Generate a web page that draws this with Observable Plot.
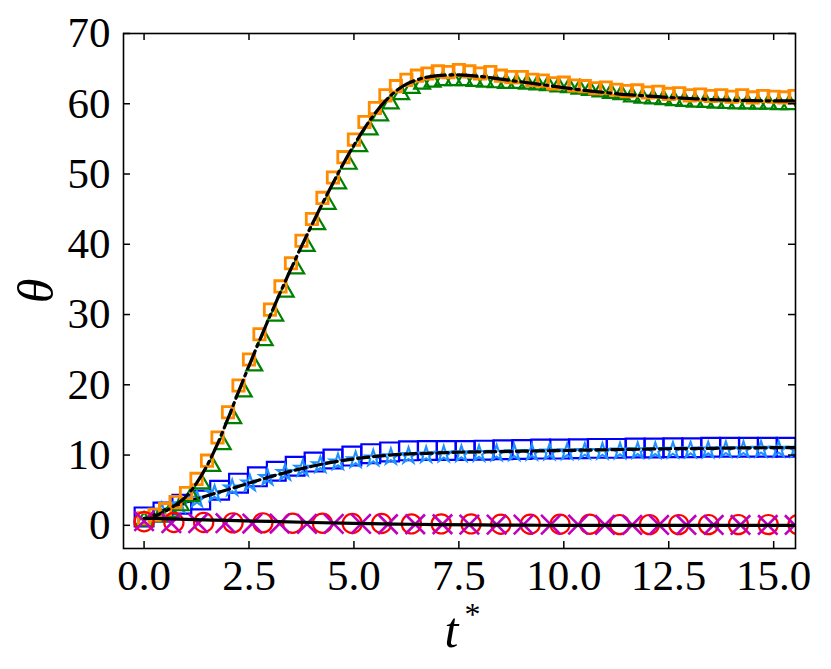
<!DOCTYPE html>
<html>
<head>
<meta charset="utf-8">
<script src="https://cdn.jsdelivr.net/npm/d3@7"></script>
<script src="https://cdn.jsdelivr.net/npm/@observablehq/plot@0.6"></script>
<style>
  body { margin: 0; background: #ffffff; }
  #chart svg { display: block; }
</style>
</head>
<body>
<div id="chart"></div>
<script>
// ---------- tick labels ----------
const xTicks = [0, 2.5, 5, 7.5, 10, 12.5, 15];
const yTicks = [0, 10, 20, 30, 40, 50, 60, 70];

// ---------- upper group (θ ≈ 60) ----------
const dashDotT = [0,0.25,0.5,0.75,1,1.25,1.5,1.75,2,2.25,2.5,2.75,3,3.25,3.5,3.75,4,4.25,4.5,4.75,5,5.25,5.5,5.75,6,6.25,6.5,6.75,7,7.25,7.5,8,8.5,9,9.5,10,10.5,11,11.5,12,12.5,13,13.5,14,14.5,15,15.5];
const dashDotTheta = [0.9,1.3,2.0,2.9,4.1,6.0,8.5,11.6,15.2,19.0,22.7,26.3,29.8,33.2,36.5,39.7,42.8,45.8,48.7,51.5,54.1,56.5,58.6,60.4,61.8,62.8,63.4,63.8,64.0,64.1,64.1,63.9,63.5,63.1,62.7,62.3,61.9,61.6,61.3,61.1,60.9,60.75,60.6,60.5,60.45,60.4,60.4];

const orangeT = [0,0.25,0.5,0.75,1,1.25,1.5,1.75,2,2.25,2.5,2.75,3,3.25,3.5,3.75,4,4.25,4.5,4.75,5,5.25,5.5,5.75,6,6.25,6.5,6.75,7,7.25,7.5,7.75,8,8.25,8.5,8.75,9,9.25,9.5,9.75,10,10.25,10.5,10.75,11,11.25,11.5,11.75,12,12.25,12.5,12.75,13,13.25,13.5,13.75,14,14.25,14.5,14.75,15,15.25,15.5];
const orangeTheta = [1.0,1.5,2.3,3.3,4.6,6.6,9.2,12.5,16.1,19.9,23.6,27.2,30.7,34.0,37.3,40.5,43.6,46.6,49.5,52.4,54.9,57.4,59.4,61.2,62.5,63.4,64.0,64.3,64.6,64.5,64.8,64.6,64.3,64.5,64.0,63.8,63.8,63.4,63.3,62.9,63.0,62.6,62.5,62.2,62.3,62.0,61.8,61.9,61.6,61.7,61.4,61.5,61.2,61.3,61.1,61.2,61.0,61.2,60.9,61.1,61.0,60.9,61.1];

const greenT = [0,0.375,0.625,0.875,1.125,1.375,1.625,1.875,2.125,2.375,2.625,2.875,3.125,3.375,3.625,3.875,4.125,4.375,4.625,4.875,5.125,5.375,5.625,5.875,6.125,6.375,6.625,6.875,7.125,7.375,7.625,7.875,8.125,8.375,8.625,8.875,9.125,9.375,9.625,9.875,10.125,10.375,10.625,10.875,11.125,11.375,11.625,11.875,12.125,12.375,12.625,12.875,13.125,13.375,13.625,13.875,14.125,14.375,14.625,14.875,15.125,15.375];
const greenTheta = [0.6,1.2,1.9,2.8,4.1,5.9,8.4,11.5,15.2,19.0,22.7,26.3,29.8,33.2,36.5,39.7,42.8,45.7,48.6,51.4,53.9,56.3,58.3,60.0,61.3,62.2,62.8,63.1,63.3,63.3,63.3,63.2,63.1,63.0,62.9,62.9,62.8,62.7,62.6,62.4,62.3,62.1,61.9,61.7,61.5,61.3,61.0,60.8,60.7,60.6,60.45,60.35,60.25,60.2,60.1,60.05,60.0,60.0,59.95,59.95,59.9,59.9];

// ---------- middle group (θ ≈ 11) ----------
const dashedT = [0,0.5,1,1.5,2,2.5,3,3.5,4,4.5,5,5.5,6,6.5,7,7.5,8,8.5,9,9.5,10,10.5,11,11.5,12,12.5,13,13.5,14,14.5,15,15.5];
const dashedTheta = [0.9,2.2,3.3,4.2,5.1,6.0,6.9,7.7,8.4,9.0,9.45,9.8,10.05,10.2,10.3,10.4,10.45,10.5,10.55,10.6,10.65,10.7,10.75,10.8,10.85,10.9,10.92,10.95,11.0,11.02,11.05,11.05];

const blueSqT = [0,0.45,0.9,1.35,1.8,2.25,2.7,3.15,3.6,4.05,4.5,4.95,5.4,5.85,6.3,6.75,7.2,7.65,8.1,8.55,9.0,9.45,9.9,10.35,10.8,11.25,11.7,12.15,12.6,13.05,13.5,13.95,14.4,14.85,15.3];
const blueSqTheta = [1.2,1.9,3.0,3.6,5.0,6.0,6.9,7.7,8.4,9.0,9.45,9.85,10.2,10.45,10.6,10.65,10.65,10.65,10.7,10.75,10.8,10.85,10.85,10.9,10.95,10.95,11.0,11.0,11.05,11.05,11.1,11.1,11.1,11.1,11.1];

const starT = [0.42,0.84,1.26,1.68,2.1,2.52,2.94,3.36,3.78,4.2,4.62,5.04,5.46,5.88,6.3,6.72,7.14,7.56,7.98,8.4,8.82,9.24,9.66,10.08,10.5,10.92,11.34,11.76,12.18,12.6,13.02,13.44,13.86,14.28,14.7,15.12,15.54];
const starTheta = [2.0,2.9,3.7,4.5,5.3,6.0,6.8,7.5,8.1,8.6,9.0,9.3,9.55,9.75,9.9,10.0,10.1,10.15,10.2,10.25,10.3,10.35,10.4,10.45,10.5,10.5,10.55,10.6,10.6,10.65,10.7,10.7,10.75,10.75,10.8,10.8,10.8];

// ---------- lower group (θ ≈ 0) ----------
const solidT = [0,0.5,1,2,3,4,5,6,7,8,9,10,11,12,13,14,15,15.5];
const solidTheta = [1.0,0.95,0.85,0.7,0.55,0.4,0.28,0.18,0.1,0.05,0.02,0,0,0,0,0,0,0];

const circleT = [0,0.71,1.42,2.12,2.83,3.54,4.25,4.96,5.66,6.37,7.08,7.79,8.5,9.2,9.91,10.62,11.33,12.04,12.74,13.45,14.16,14.87,15.58];
const circleTheta = [0.5,0.4,0.4,0.35,0.35,0.3,0.3,0.25,0.25,0.2,0.2,0.2,0.15,0.15,0.15,0.15,0.1,0.1,0.1,0.1,0.1,0.1,0.1];

const crossT = [0,0.65,1.29,1.94,2.58,3.23,3.88,4.52,5.17,5.81,6.46,7.11,7.75,8.4,9.04,9.69,10.34,10.98,11.63,12.27,12.92,13.57,14.21,14.86,15.5];
const crossTheta = [0.6,0.3,0.3,0.3,0.25,0.25,0.2,0.2,0.2,0.15,0.15,0.15,0.1,0.1,0.1,0.1,0.1,0.05,0.05,0.05,0.05,0.05,0.05,0.05,0.05];

// ---------- build tables ----------
const rows = (ts, vs) => ts.map((t, i) => ({ t, v: vs[i] }));

const W = 831, H = 669;
const mL = 123, mR = 36, mT = 33, mB = 121;
const innerW = W - mL - mR;
const innerH = H - mT - mB;
const tickLen = 7;
const FONT = "'Liberation Serif', 'DejaVu Serif', serif";

const lineOpts = { x: "t", y: "v", stroke: "black", strokeWidth: 3.2, curve: "catmull-rom", clip: true };
const dotOpts = { x: "t", y: "v", fill: "none", clip: true };

const chart = Plot.plot({
  width: W,
  height: H,
  marginLeft: mL,
  marginRight: mR,
  marginTop: mT,
  marginBottom: mB,
  style: { fontFamily: FONT, background: "white", color: "black", overflow: "visible" },
  x: { domain: [-0.49, 15.52] },
  y: { domain: [-3.3, 70] },
  marks: [
    // middle group
    Plot.dot(rows(blueSqT, blueSqTheta), { ...dotOpts, symbol: "square", r: 10.6, stroke: "#0000ff", strokeWidth: 2.2 }),
    Plot.dot(rows(starT, starTheta), { ...dotOpts, symbol: "star", r: 5.0, stroke: "#1e90ff", strokeWidth: 2.1 }),
    Plot.line(rows(dashedT, dashedTheta), { ...lineOpts, strokeDasharray: "11.1,4.8" }),
    // upper group
    Plot.dot(rows(greenT, greenTheta), { ...dotOpts, symbol: "triangle", r: 5.9, stroke: "#008000", strokeWidth: 2.2 }),
    Plot.dot(rows(orangeT, orangeTheta), { ...dotOpts, symbol: "square", r: 6.4, stroke: "#ff8c00", strokeWidth: 2.8 }),
    Plot.line(rows(dashDotT, dashDotTheta), { ...lineOpts, strokeDasharray: "19.2,4.8,3,4.8" }),
    // lower group
    Plot.dot(rows(circleT, circleTheta), { ...dotOpts, symbol: "circle", r: 9.6, stroke: "#ff0000", strokeWidth: 2.2 }),
    Plot.dot(rows(crossT, crossTheta), { ...dotOpts, symbol: "times", r: 8.9, stroke: "#bf00bf", strokeWidth: 2.6 }),
    Plot.line(rows(solidT, solidTheta), { ...lineOpts }),
    // inward ticks on all four sides
    Plot.ruleX(xTicks, { insetTop: innerH - tickLen, stroke: "black", strokeWidth: 1.5 }),
    Plot.ruleX(xTicks, { insetBottom: innerH - tickLen, stroke: "black", strokeWidth: 1.5 }),
    Plot.ruleY(yTicks, { insetRight: innerW - tickLen, stroke: "black", strokeWidth: 1.5 }),
    Plot.ruleY(yTicks, { insetLeft: innerW - tickLen, stroke: "black", strokeWidth: 1.5 }),
    Plot.frame({ stroke: "black", strokeWidth: 1.6 }),
    // tick labels
    Plot.axisX(xTicks, { tickSize: 0, tickPadding: 11, tickFormat: d3.format(".1f"), fontSize: 43, label: null, fill: "black" }),
    Plot.axisY(yTicks, { tickSize: 0, tickPadding: 13, tickFormat: d3.format("d"), fontSize: 43, label: null, fill: "black" }),
    // axis labels
    Plot.text(["θ"], { frameAnchor: "left", textAnchor: "middle", lineAnchor: "middle", text: d => d, rotate: -90, dx: -87, fontSize: 50, fontStyle: "italic", fill: "black" }),
    Plot.text(["t"], { frameAnchor: "bottom", textAnchor: "middle", lineAnchor: "middle", text: d => d, dx: -8, dy: 82, fontSize: 50, fontStyle: "italic", fill: "black" }),
    Plot.text(["*"], { frameAnchor: "bottom", textAnchor: "middle", lineAnchor: "middle", text: d => d, dx: 13, dy: 66, fontSize: 32, fill: "black" })
  ]
});

document.getElementById("chart").appendChild(chart);
</script>
</body>
</html>
